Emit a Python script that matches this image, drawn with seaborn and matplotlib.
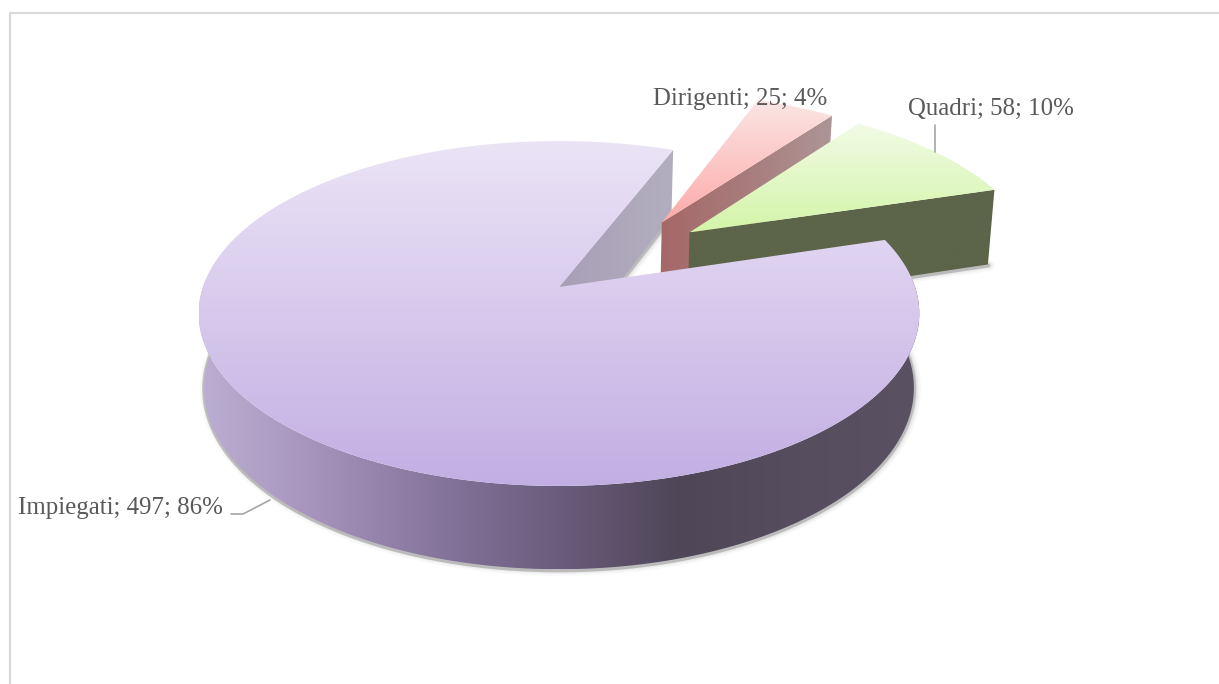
import numpy as np
import matplotlib
matplotlib.use("Agg")
import matplotlib.pyplot as plt
from matplotlib.patches import Polygon
import seaborn as sns

# Workforce by category
categories = ["Dirigenti", "Quadri", "Impiegati"]
headcount = [25, 58, 497]
explode_dist = [0.51, 0.515, 0.0]
explode_bearing = [37.0, 48.5, 0.0]  # degrees clockwise from the back of the pie
depth_factor = [1.0, 1.1, 1.0]
start_angle = 21.5

# Perspective projection of the pie disc onto the canvas (pixels)
CX, CY = 559.0, 287.0
RX, RY = 356.0, 168.4
PERSP = 0.1536
DEPTH = 73.0
BOTTOM_SCALE = 0.985

sns.set_theme(style="white")
plt.rcParams["font.family"] = ["Liberation Serif", "DejaVu Serif"]

top_ramps = {
    "Dirigenti": ["#fbe6e4", "#fdaaaa"],
    "Quadri": ["#f2fbe6", "#d3f5a8"],
    "Impiegati": ["#ebe4f6", "#c3aee3"],
}
rim_ramp = ["#bcaed2", "#a592bb", "#85749c", "#6a5c7c", "#4f4658", "#564d5e", "#5a5162"]
cut_ramps = {
    "Dirigenti": ["#a56767", "#a87c7c", "#ad9595"],
    "Quadri": ["#5c6449", "#5c6449"],
    "Impiegati": ["#a89fb6", "#b3aebf"],
}
TEXT_COLOR = "#595959"
LEADER_COLOR = "#a6a6a6"
FRAME_COLOR = "#d9d9d9"


def project(u, v, z=0.0):
    w = 1.0 + PERSP * np.asarray(v, dtype=float)
    s = 1.0 - (1.0 - BOTTOM_SCALE) * min(z, 1.0)
    return CX + RX * np.asarray(u) * s / w, CY - RY * np.asarray(v) * s / w + DEPTH * z / w


def arc(a0, a1, off, z=0.0, n=240, back_limit=None):
    ang = np.radians(np.linspace(a0, a1, n))
    if back_limit is not None:
        ang = ang[np.cos(ang) < back_limit]
    x, y = project(off[0] + np.sin(ang), off[1] + np.cos(ang), z)
    return np.column_stack([x, y])


def gradient_fill(ax, verts, colors, horizontal=False, zorder=1):
    patch = Polygon(verts, closed=True, facecolor="none", edgecolor="none", zorder=zorder)
    ax.add_patch(patch)
    cmap = sns.blend_palette(colors, as_cmap=True)
    ramp = np.linspace(0, 1, 256)
    ramp = ramp[None, :] if horizontal else ramp[:, None]
    x0, y0 = verts.min(axis=0)
    x1, y1 = verts.max(axis=0)
    im = ax.imshow(ramp, extent=(x0, x1, y1, y0), cmap=cmap, vmin=0, vmax=1,
                   aspect="auto", interpolation="bilinear", zorder=zorder)
    im.set_clip_path(patch)


def soft_shadow(ax, line, zorder=0.5):
    # Layered strokes along a bottom edge give a blurred drop shadow
    for lw, alpha, dx, dy in [(8, 0.05, 1.5, 1.0), (5, 0.09, 1.5, 1.0),
                              (3, 0.16, 1.0, 1.0), (3, 0.35, 0.0, 1.0)]:
        ax.plot(line[:, 0] + dx, line[:, 1] + dy, color="#808080", lw=lw, alpha=alpha,
                solid_capstyle="round", zorder=zorder)


fig = plt.figure(figsize=(12.19, 6.84), dpi=100)
ax = fig.add_axes([0, 0, 1, 1])
ax.set_xlim(0, 1219)
ax.set_ylim(684, 0)
ax.axis("off")

ax.plot([10, 10, 1219], [684, 13, 13], color=FRAME_COLOR, lw=1.6, zorder=0)

total = sum(headcount)
shares = [v / total * 360.0 for v in headcount]
edges = start_angle + np.concatenate([[0.0], np.cumsum(shares)])

order = {"Impiegati": 0, "Dirigenti": 2, "Quadri": 3}
for i, name in enumerate(categories):
    a0, a1 = edges[i], edges[i + 1]
    bearing = np.radians(explode_bearing[i])
    off = (explode_dist[i] * np.sin(bearing), explode_dist[i] * np.cos(bearing))
    z_low = depth_factor[i]
    top_arc = arc(a0, a1, off)
    apex_top = np.column_stack(project(off[0], off[1]))
    apex_low = np.column_stack(project(off[0], off[1], z_low))
    base = order[name] * 10 + 1

    top_face = np.vstack([apex_top, top_arc])

    # The wall along the closing edge of each slice faces the viewer
    end_hi = arc(a1, a1, off, n=1)
    end_lo = arc(a1, a1, off, z_low, n=1)
    wall = np.vstack([apex_top, end_hi, end_lo, apex_low])
    soft_shadow(ax, np.vstack([end_lo, apex_low]), zorder=base)
    gradient_fill(ax, wall, cut_ramps[name], horizontal=True, zorder=base + 1)

    if name == "Impiegati":
        # Outer rim sits above the exploded slices
        front = 50
        rim_hi = arc(a0, a1, off, back_limit=0.05, n=720)
        rim_lo = arc(a0, a1, off, z_low, back_limit=0.05, n=720)
        rim = np.vstack([rim_hi, rim_lo[::-1]])
        soft_shadow(ax, rim_lo, zorder=front)
        gradient_fill(ax, rim, rim_ramp, horizontal=True, zorder=front + 1)
        gradient_fill(ax, top_face, top_ramps[name], zorder=front + 2)
    else:
        gradient_fill(ax, top_face, top_ramps[name], zorder=base + 2)

# Data labels: name; value; share, with leader lines
label_at = {"Dirigenti": (653, 105), "Quadri": (908, 115), "Impiegati": (18, 514)}
for name, value in zip(categories, headcount):
    x, y = label_at[name]
    ax.text(x, y, f"{name}; {value}; {value / total * 100:.0f}%", color=TEXT_COLOR,
            fontsize=17.9, ha="left", va="baseline", zorder=80)

ax.plot([935, 935], [125, 152], color=LEADER_COLOR, lw=1.2, zorder=70)
ax.plot([231, 243, 270], [514, 514, 500], color=LEADER_COLOR, lw=1.2, zorder=40)

fig.savefig("out.png", dpi=100)
